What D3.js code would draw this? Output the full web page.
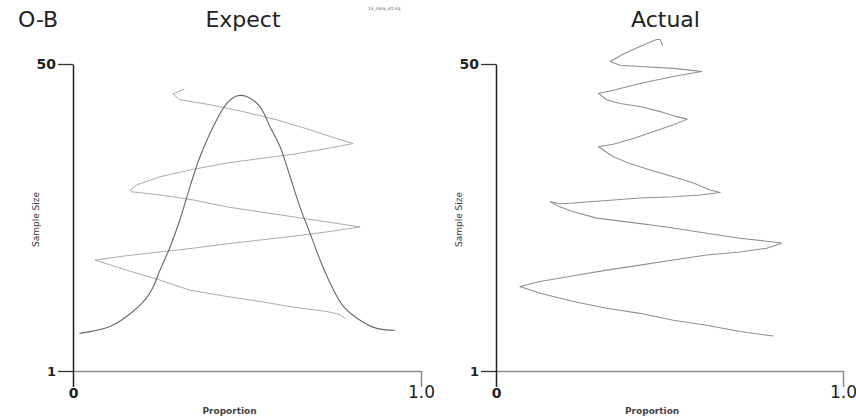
<!DOCTYPE html>
<html>
<head>
<meta charset="utf-8">
<script src="https://cdn.jsdelivr.net/npm/d3@7"></script>
<style>
  body { margin: 0; background: #fff; }
  text { font-family: "DejaVu Sans", Verdana, sans-serif; }
</style>
</head>
<body>
<div id="wrapper"></div>
<script>
// sketched lines, [proportion, sample size]
const expectBell = [
  [0.020, 7.0], [0.106, 8.1], [0.154, 9.7], [0.206, 12.3], [0.231, 14.5], [0.250, 17.1],
  [0.279, 20.8], [0.307, 25.1], [0.336, 30.4], [0.365, 35.2], [0.403, 40.0], [0.442, 43.7],
  [0.470, 44.9], [0.499, 44.8], [0.537, 43.2], [0.566, 40.0], [0.595, 36.8], [0.624, 32.0],
  [0.652, 27.2], [0.681, 23.0], [0.710, 18.7], [0.739, 15.0], [0.777, 11.3], [0.825, 9.1],
  [0.873, 7.8], [0.925, 7.5]
];
const expectZigzag = [
  [0.319, 46.0], [0.287, 45.2], [0.307, 44.3], [0.394, 43.5], [0.489, 42.4], [0.585, 41.1],
  [0.681, 39.5], [0.758, 38.1], [0.805, 37.3], [0.729, 36.5], [0.633, 35.6], [0.537, 34.9],
  [0.442, 34.2], [0.346, 33.2], [0.250, 32.0], [0.183, 30.7], [0.164, 29.9], [0.169, 29.6],
  [0.250, 29.1], [0.346, 28.3], [0.442, 27.2], [0.537, 26.4], [0.633, 25.6], [0.729, 24.8],
  [0.825, 24.0], [0.729, 23.2], [0.633, 22.5], [0.537, 21.9], [0.442, 21.3], [0.346, 20.6],
  [0.250, 20.0], [0.154, 19.4], [0.063, 18.7], [0.154, 17.1], [0.250, 15.5], [0.336, 13.9],
  [0.442, 12.9], [0.537, 12.1], [0.633, 11.2], [0.729, 10.5], [0.767, 10.0], [0.782, 9.4]
];
const actualLine = [
  [0.480, 53.0], [0.473, 53.9], [0.463, 53.9], [0.415, 52.8], [0.367, 51.6], [0.329, 50.4],
  [0.357, 49.8], [0.415, 49.6], [0.511, 49.3], [0.578, 48.9], [0.593, 48.8], [0.511, 48.0],
  [0.415, 46.9], [0.338, 45.8], [0.295, 45.3], [0.319, 44.3], [0.357, 43.7], [0.415, 43.2],
  [0.473, 42.4], [0.521, 41.6], [0.551, 41.2], [0.511, 40.3], [0.453, 39.2], [0.396, 38.1],
  [0.338, 37.2], [0.295, 36.8], [0.338, 35.2], [0.386, 34.1], [0.444, 33.1], [0.511, 32.0],
  [0.569, 31.0], [0.617, 29.9], [0.646, 29.5], [0.588, 29.1], [0.511, 28.8], [0.415, 28.6],
  [0.319, 28.2], [0.223, 27.8], [0.184, 27.7], [0.156, 28.0], [0.184, 27.2], [0.223, 26.4],
  [0.290, 25.4], [0.377, 24.8], [0.492, 24.0], [0.607, 23.0], [0.703, 22.2], [0.799, 21.6],
  [0.823, 21.4], [0.780, 20.6], [0.703, 20.0], [0.607, 19.5], [0.511, 18.7], [0.415, 17.9],
  [0.319, 17.1], [0.223, 16.2], [0.127, 15.3], [0.069, 14.5], [0.127, 13.4], [0.223, 12.1],
  [0.319, 11.0], [0.415, 10.2], [0.511, 9.1], [0.607, 8.3], [0.703, 7.3], [0.799, 6.6]
];

const yTicks = [1, 50];
const xTicks = [0, 1];
const panels = [
  { title: "Expect", left: 73, right: 421, lines: [
      { data: expectZigzag, color: "#ababab", width: 1, curve: d3.curveLinear },
      { data: expectBell, color: "#666", width: 1.1, curve: d3.curveCatmullRom }
  ] },
  { title: "Actual", left: 496, right: 843, lines: [
      { data: actualLine, color: "#909090", width: 1.05, curve: d3.curveLinear }
  ] }
];

const width = 856, height = 419;
const plotTop = 64, plotBottom = 371;

const svg = d3.select("#wrapper").append("svg")
  .attr("width", width)
  .attr("height", height);

svg.append("text")
  .attr("x", 18).attr("y", 27)
  .attr("font-size", 22).attr("fill", "#222")
  .text("O-B");

svg.append("text")
  .attr("x", 384).attr("y", 10)
  .attr("font-size", 4.5).attr("fill", "#666")
  .attr("text-anchor", "middle")
  .text("13_mea_stt.sq");

const y = d3.scaleLinear().domain([1, 50]).range([plotBottom, plotTop]);

panels.forEach(p => {
  const x = d3.scaleLinear().domain([0, 1]).range([p.left, p.right]);
  const g = svg.append("g");

  g.append("text")
    .attr("x", (p.left + p.right) / 2 - 4).attr("y", 27)
    .attr("font-size", 22).attr("fill", "#222")
    .attr("text-anchor", "middle")
    .text(p.title);

  // x axis (the 0 tick doubles as the y axis stub)
  const xa = g.append("g")
    .attr("transform", `translate(0,${plotBottom})`)
    .call(d3.axisBottom(x).tickValues(xTicks).tickSize(16).tickSizeOuter(0)
      .tickFormat(d => d === 0 ? "0" : "1.0"));
  xa.select(".domain").attr("stroke", "#8a8a8a").attr("stroke-width", 1.5);
  xa.selectAll(".tick line").attr("stroke", (d) => d === 0 ? "#222" : "#8a8a8a").attr("stroke-width", 1.5);
  xa.selectAll(".tick text")
    .attr("fill", "#222")
    .attr("font-family", "DejaVu Sans, sans-serif")
    .attr("font-size", d => d === 0 ? 14 : 17)
    .attr("font-weight", d => d === 0 ? "bold" : "normal")
    .attr("dy", d => d === 0 ? "0.55em" : "0.45em");

  const ya = g.append("g")
    .attr("transform", `translate(${p.left},0)`)
    .call(d3.axisLeft(y).tickValues(yTicks).tickSize(15).tickSizeOuter(0));
  ya.select(".domain").attr("stroke", "#222").attr("stroke-width", 1.5);
  ya.selectAll(".tick line").attr("stroke", "#333").attr("stroke-width", 1.3);
  ya.selectAll(".tick text")
    .attr("fill", "#222")
    .attr("font-family", "DejaVu Sans, sans-serif")
    .attr("font-size", d => d === 50 ? 14 : 13)
    .attr("font-weight", "bold")
    .attr("x", -17);

  g.append("text")
    .attr("transform", `translate(${p.left - 34},${(plotTop + plotBottom) / 2 + 2}) rotate(-90)`)
    .attr("font-size", 9).attr("fill", "#333")
    .attr("text-anchor", "middle")
    .text("Sample Size");

  g.append("text")
    .attr("x", x(0.45)).attr("y", 414)
    .attr("font-size", 9).attr("font-weight", "bold").attr("fill", "#444")
    .attr("text-anchor", "middle")
    .text("Proportion");

  p.lines.forEach(l => {
    const line = d3.line()
      .x(d => x(d[0]))
      .y(d => y(d[1]))
      .curve(l.curve);
    g.append("path")
      .datum(l.data)
      .attr("fill", "none")
      .attr("stroke", l.color)
      .attr("stroke-width", l.width)
      .attr("stroke-linejoin", "round")
      .attr("stroke-linecap", "round")
      .attr("d", line);
  });
});
</script>
</body>
</html>
